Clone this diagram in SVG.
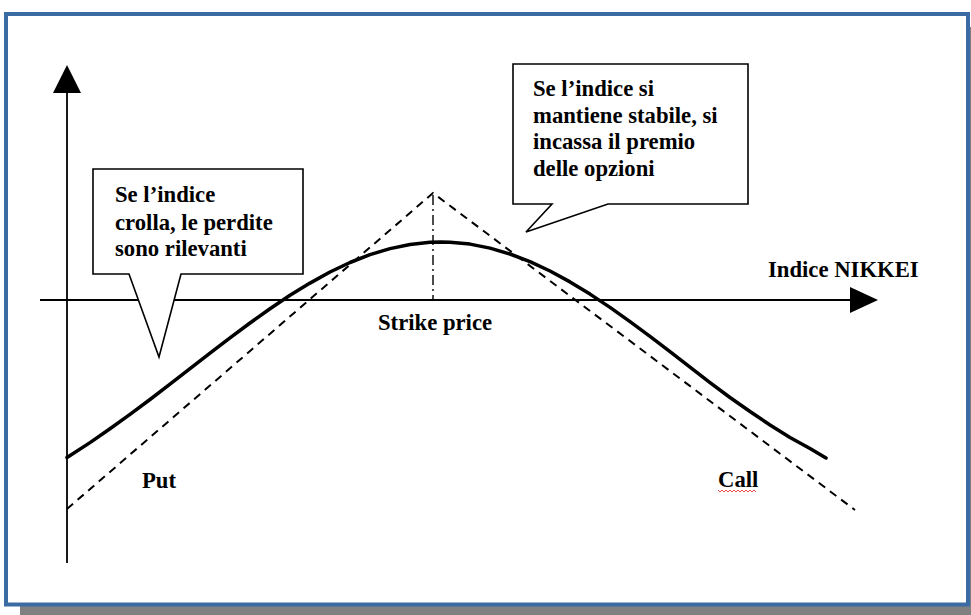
<svg xmlns="http://www.w3.org/2000/svg" width="971" height="615" viewBox="0 0 971 615">
<style>
text{font-family:'Liberation Serif','DejaVu Serif',serif;font-weight:bold;font-size:22.7px;fill:#000}
.axis{stroke:#000;stroke-width:1.8;fill:none}
.bell{stroke:#000;stroke-width:3.5;fill:none;stroke-linejoin:round;stroke-linecap:round}
.dash{stroke:#000;stroke-width:2;fill:none;stroke-dasharray:8 6}
.dashdot{stroke:#000;stroke-width:1.4;fill:none;stroke-dasharray:10 4 2 4}
.callout{fill:#fff;stroke:#000;stroke-width:1.6;stroke-linejoin:miter}
</style>
<rect x="0" y="0" width="971" height="615" fill="#fff"/>
<g id="frame">
<rect x="20" y="606" width="951" height="9" fill="#808080"/>
<rect x="969" y="27" width="2" height="588" fill="#808080"/>
<rect x="6" y="14" width="962" height="590.5" fill="#fff" stroke="#3a6ba3" stroke-width="4"/>
</g>
<g id="connectors">
<line class="axis" x1="67" y1="563" x2="67" y2="90"/>
<polygon points="67,65 53,93 81,93" fill="#000"/>
<line class="axis" x1="40" y1="300" x2="852" y2="300"/>
<polygon points="878,300 850,287 850,313" fill="#000"/>
<line class="dashdot" x1="433" y1="195" x2="433" y2="300"/>
<polyline class="dash" points="67,509 433,193 855,510"/>
<polyline class="bell" points="67,457.5 90,442.6 110,428.8 130,414.4 150,399.5 170,384.2 190,368.7 210,353.2 230,337.9 250,323 270,308.8 290,295.3 310,283.1 330,272 350,262.5 370,254.6 390,248.6 410,244.5 430,242.3 441,242 450,242.2 470,244.1 490,248.1 510,254 530,261.6 550,271 570,281.9 590,294.1 610,307.4 630,321.6 650,336.4 670,351.6 690,367.1 710,382.6 730,397.5 750,411.5 770,425 790,437.5 810,448.5 826,458"/>
</g>
<g id="callout-left">
<path class="callout" d="M93,169 H303 V274 H181 L159,357 L129,274 H93 Z"/>
<text x="115" y="202">Se l’indice</text>
<text x="115" y="230">crolla, le perdite</text>
<text x="115" y="256">sono rilevanti</text>
</g>
<g id="callout-right">
<path class="callout" d="M513,64 H748 V204 H608 L526,232 L552,204 H513 Z"/>
<text x="533" y="96">Se l’indice si</text>
<text x="533" y="123">mantiene stabile, si</text>
<text x="533" y="149">incassa il premio</text>
<text x="533" y="176">delle opzioni</text>
</g>
<g id="label-nikkei"><text x="768" y="277">Indice NIKKEI</text></g>
<g id="label-strike"><text x="378" y="330">Strike price</text></g>
<g id="label-put"><text x="142" y="488">Put</text></g>
<g id="label-call"><text x="718" y="487">Call</text>
<path d="M718,490 l2,2 l2,-2 l2,2 l2,-2 l2,2 l2,-2 l2,2 l2,-2 l2,2 l2,-2 l2,2 l2,-2 l2,2 l2,-2 l2,2 l2,-2 l2,2 l2,-2 l2,2" fill="none" stroke="#e02020" stroke-width="0.8"/>
</g>
</svg>
